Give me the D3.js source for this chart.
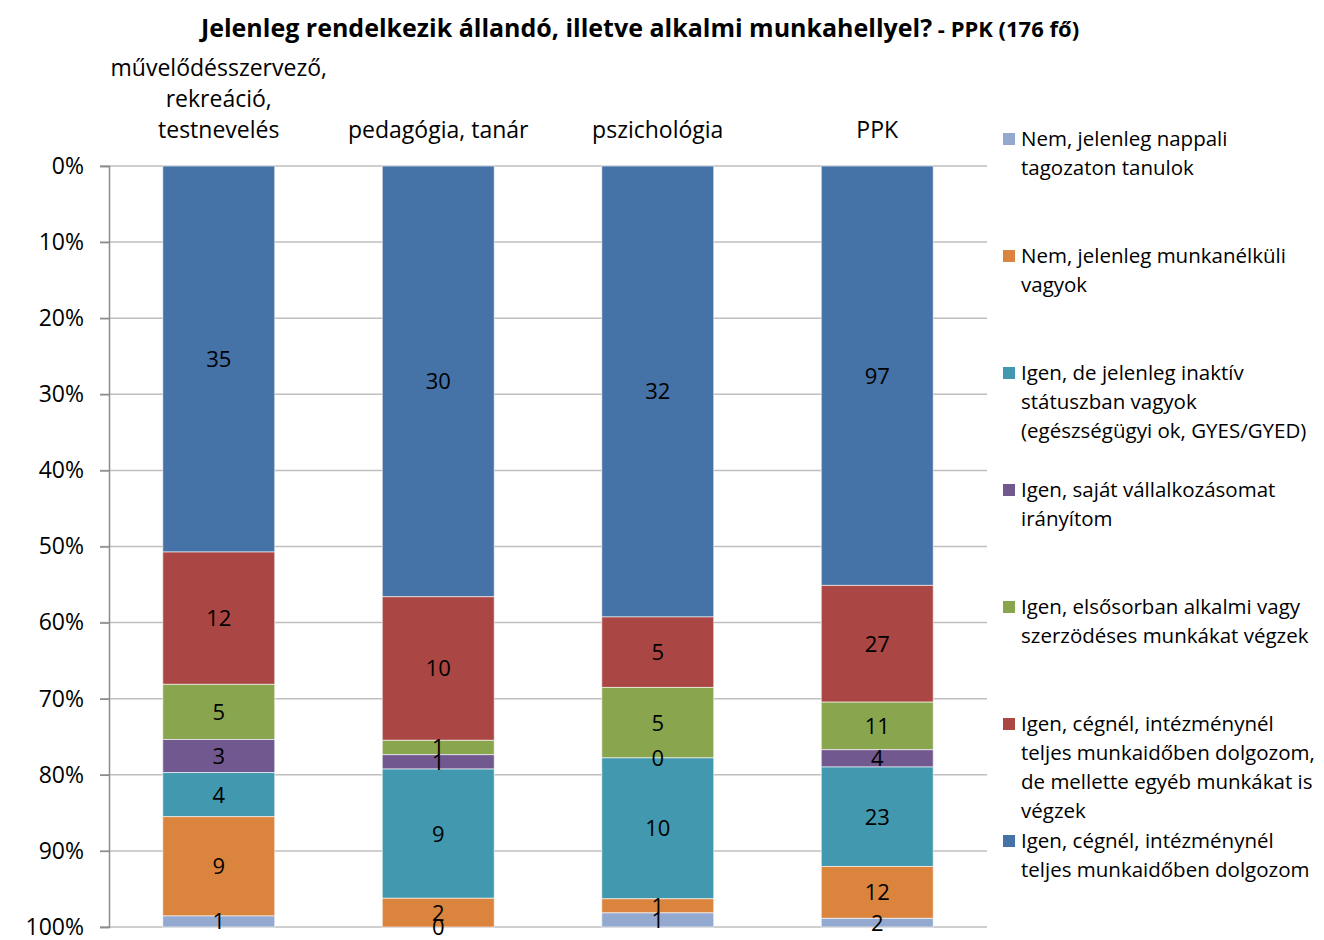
<!DOCTYPE html>
<html>
<head>
<meta charset="utf-8">
<script src="https://cdn.jsdelivr.net/npm/d3@7"></script>
<style>
  html, body { margin: 0; padding: 0; background: #fff; }
  svg { display: block; }
  text { font-family: "Open Sans", "Noto Sans", sans-serif; fill: #000; }
</style>
</head>
<body>
<svg id="chart" width="1324" height="940"></svg>
<script>
// ---- Data ----
const categories = [
  ["művelődésszervező,", "rekreáció,", "testnevelés"],
  ["pedagógia, tanár"],
  ["pszichológia"],
  ["PPK"]
];
// Series in stacking order (top of chart = 0% first)
const fullTime      = [35, 30, 32, 97];
const fullTimePlus  = [12, 10, 5, 27];
const casual        = [5, 1, 5, 11];
const ownBusiness   = [3, 1, 0, 4];
const inactive      = [4, 9, 10, 23];
const unemployed    = [9, 2, 1, 12];
const student       = [1, 0, 1, 2];

const seriesNames = [
  ["Igen, cégnél, intézménynél", "teljes munkaidőben dolgozom"],
  ["Igen, cégnél, intézménynél", "teljes munkaidőben dolgozom,", "de mellette egyéb munkákat is", "végzek"],
  ["Igen, elsősorban alkalmi vagy", "szerzödéses munkákat végzek"],
  ["Igen, saját vállalkozásomat", "irányítom"],
  ["Igen, de jelenleg inaktív", "státuszban vagyok", "(egészségügyi ok, GYES/GYED)"],
  ["Nem, jelenleg munkanélküli", "vagyok"],
  ["Nem, jelenleg nappali", "tagozaton tanulok"]
];
const seriesColors = ["#4572A7", "#AA4643", "#89A54E", "#71588F", "#4198AF", "#DB843D", "#93A9CF"];
const seriesValues = [fullTime, fullTimePlus, casual, ownBusiness, inactive, unemployed, student];
const yTicks = [0, 0.1, 0.2, 0.3, 0.4, 0.5, 0.6, 0.7, 0.8, 0.9, 1.0];
const titleMain = "Jelenleg rendelkezik állandó, illetve alkalmi munkahellyel?";
const titleSub = " - PPK (176 fő)";

// ---- Layout ----
const svg = d3.select("#chart");
const plot = { left: 109, right: 987, top: 166, bottom: 927 };

const x = d3.scaleBand()
  .domain(d3.range(categories.length))
  .range([plot.left, plot.right])
  .paddingInner(0.49)
  .paddingOuter(0.245);

const y = d3.scaleLinear().domain([0, 1]).range([plot.top, plot.bottom]);

// Title
const title = svg.append("text")
  .attr("x", 640).attr("y", 37)
  .attr("text-anchor", "middle")
  .style("font-family", "'Liberation Sans Narrow', 'Open Sans', sans-serif")
  .style("font-weight", "bold");
title.append("tspan").style("font-size", "25px").text(titleMain);
title.append("tspan").style("font-size", "22px").text(titleSub);

// Gridlines
svg.append("g")
  .selectAll("line")
  .data(yTicks)
  .join("line")
  .attr("x1", plot.left - 9).attr("x2", plot.right)
  .attr("y1", d => y(d)).attr("y2", d => y(d))
  .attr("stroke", "#bfbfbf").attr("stroke-width", 1.5);

// Y axis
const yAxis = d3.axisLeft(y)
  .tickValues(yTicks)
  .tickFormat(d3.format(".0%"))
  .tickSize(9)
  .tickPadding(16);
const ya = svg.append("g")
  .attr("transform", `translate(${plot.left},0)`)
  .call(yAxis);
ya.select(".domain").attr("stroke", "#8c8c8c").attr("stroke-width", 1.5);
ya.selectAll(".tick line").attr("stroke", "#8c8c8c").attr("stroke-width", 1.5);
ya.selectAll(".tick text")
  .style("font-size", "23px")
  .style("font-family", "'Open Sans', sans-serif")
  .attr("fill", "#000");

// Stack data
const rows = categories.map((c, i) => {
  const total = d3.sum(seriesValues, s => s[i]);
  const r = { i, total };
  seriesValues.forEach((s, k) => r["s" + k] = s[i] / total);
  return r;
});
const stack = d3.stack().keys(seriesValues.map((s, k) => "s" + k));
const stacked = stack(rows);

const bars = svg.append("g");
stacked.forEach((layer, k) => {
  bars.append("g")
    .selectAll("rect")
    .data(layer)
    .join("rect")
    .attr("x", d => x(d.data.i))
    .attr("width", x.bandwidth())
    .attr("y", d => y(d[0]))
    .attr("height", d => Math.max(0, y(d[1]) - y(d[0])))
    .attr("fill", seriesColors[k])
    .attr("stroke", "rgba(255,255,255,0.6)")
    .attr("stroke-width", 1);
});

// Value labels
const labels = svg.append("g");
stacked.forEach((layer, k) => {
  labels.append("g")
    .selectAll("text")
    .data(layer)
    .join("text")
    .attr("x", d => x(d.data.i) + x.bandwidth() / 2)
    .attr("y", d => (y(d[0]) + y(d[1])) / 2)
    .attr("dy", "0.36em")
    .attr("text-anchor", "middle")
    .style("font-size", "22px")
    .text((d, i) => seriesValues[k][i]);
});

// Category labels (top)
const lineH = 31;
categories.forEach((lines, i) => {
  const t = svg.append("text")
    .attr("text-anchor", "middle")
    .style("font-size", "23px");
  lines.forEach((ln, j) => {
    t.append("tspan")
      .attr("x", x(i) + x.bandwidth() / 2)
      .attr("y", 138 - (lines.length - 1 - j) * lineH)
      .text(ln);
  });
});

// Legend (reverse order: bottom series first)
const legend = svg.append("g");
const legendOrder = d3.range(seriesNames.length).reverse();
legendOrder.forEach((k, idx) => {
  const cy = 139 + idx * 117;
  legend.append("rect")
    .attr("x", 1003).attr("y", cy - 6)
    .attr("width", 12).attr("height", 12)
    .attr("fill", seriesColors[k]);
  const t = legend.append("text").style("font-size", "20.5px");
  seriesNames[k].forEach((ln, j) => {
    t.append("tspan")
      .attr("x", 1021)
      .attr("y", cy + j * 29)
      .attr("dy", "0.36em")
      .text(ln);
  });
});
</script>
</body>
</html>
